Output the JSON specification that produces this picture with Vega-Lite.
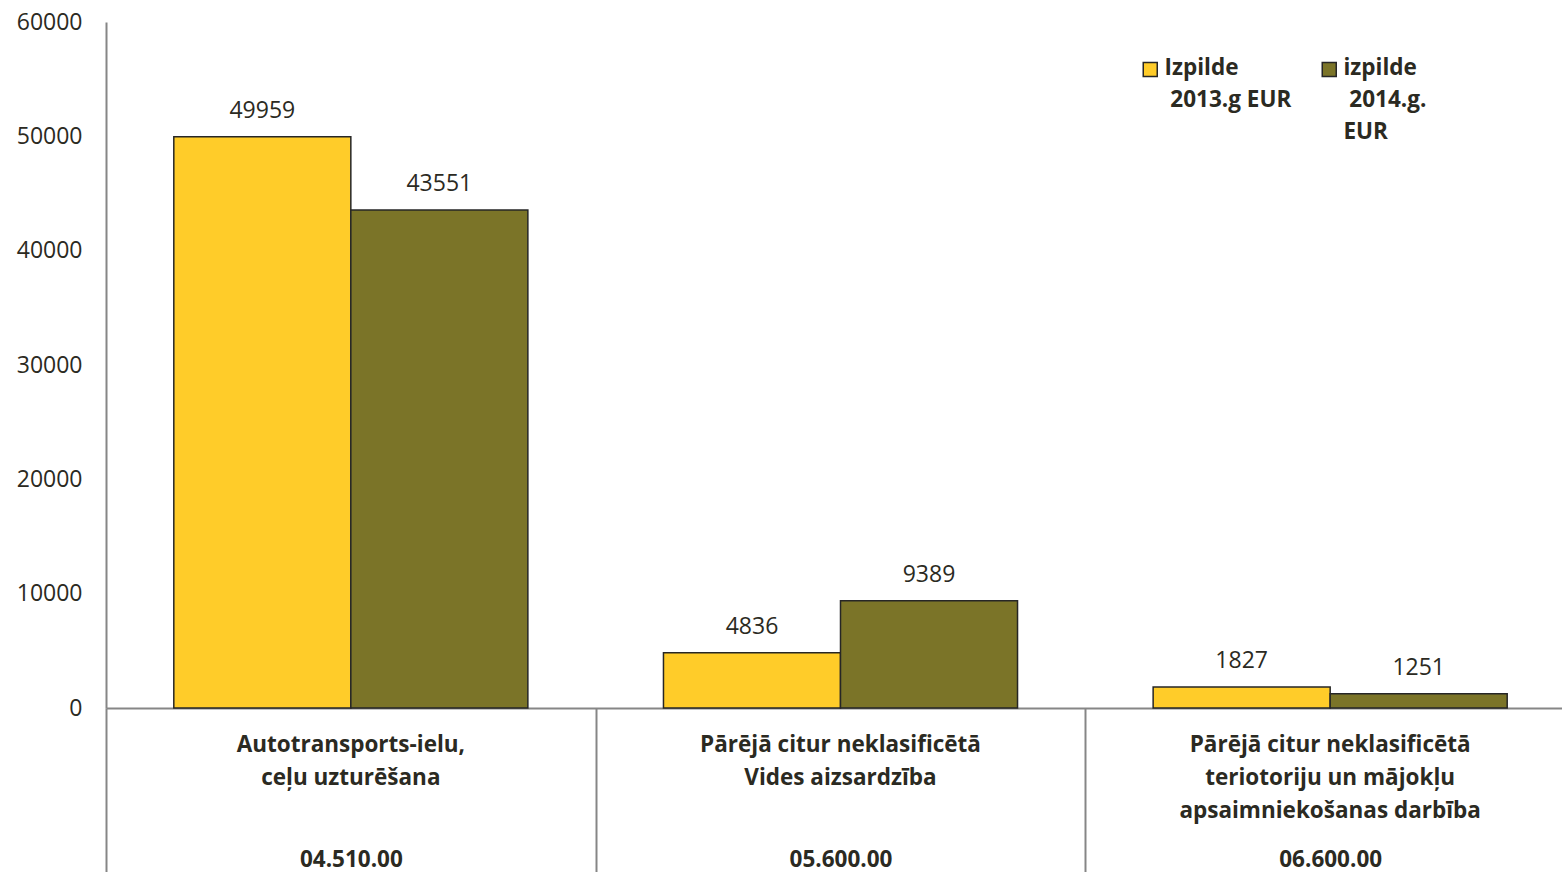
{
  "$schema": "https://vega.github.io/schema/vega-lite/v6.json",
  "width": 1456,
  "height": 686,
  "autosize": {"type": "none"},
  "padding": {"left": 106, "top": 22, "right": 0, "bottom": 164},
  "background": "white",
  "config": {"view": {"stroke": null}, "font": "Open Sans"},
  "data": {
    "values": [
      {"cat": "Autotransports-ielu,|ceļu uzturēšana#04.510.00", "series": "Izpilde|\u200b\u00a02013.g EUR|\u00a0", "value": 49959},
      {"cat": "Autotransports-ielu,|ceļu uzturēšana#04.510.00", "series": "izpilde|\u200b\u00a02014.g.|EUR", "value": 43551},
      {"cat": "Pārējā citur neklasificētā|Vides aizsardzība#05.600.00", "series": "Izpilde|\u200b\u00a02013.g EUR|\u00a0", "value": 4836},
      {"cat": "Pārējā citur neklasificētā|Vides aizsardzība#05.600.00", "series": "izpilde|\u200b\u00a02014.g.|EUR", "value": 9389},
      {"cat": "Pārējā citur neklasificētā|teriotoriju un mājokļu|apsaimniekošanas darbība#06.600.00", "series": "Izpilde|\u200b\u00a02013.g EUR|\u00a0", "value": 1827},
      {"cat": "Pārējā citur neklasificētā|teriotoriju un mājokļu|apsaimniekošanas darbība#06.600.00", "series": "izpilde|\u200b\u00a02014.g.|EUR", "value": 1251}
    ]
  },
  "layer": [
    {
      "mark": {"type": "bar", "stroke": "#262626", "strokeWidth": 1.5},
      "encoding": {
        "x": {
          "field": "cat", "type": "nominal", "sort": null,
          "scale": {"range": [0, 1469], "paddingInner": 0, "paddingOuter": 0},
          "axis": {
            "orient": "bottom", "title": null, "ticks": false, "domain": true,
            "domainColor": "#868686", "domainWidth": 2, "labelAngle": 0,
            "labelFont": "Open Sans", "labelFontSize": 22.5, "labelFontWeight": "bold",
            "labelColor": "#2b2a22", "labelBaseline": "top", "labelLineHeight": 33,
            "labelPadding": 25, "labelLimit": 480, "labelOverlap": false,
            "labelExpr": "split(split(datum.label, '#')[0], '|')"
          }
        },
        "xOffset": {"field": "series", "type": "nominal", "sort": null, "scale": {"paddingInner": 0, "paddingOuter": 0.383}},
        "y": {
          "field": "value", "type": "quantitative",
          "scale": {"domain": [0, 60000], "nice": false},
          "axis": {
            "title": null, "values": [0, 10000, 20000, 30000, 40000, 50000, 60000], "format": "d",
            "ticks": false, "grid": false, "domainColor": "#868686", "domainWidth": 2,
            "labelFont": "Open Sans", "labelFontSize": 23, "labelColor": "#2b2a22", "labelPadding": 24
          }
        },
        "color": {
          "field": "series", "type": "nominal", "sort": null,
          "scale": {"range": ["#FFCC29", "#7B7428"]},
          "legend": {
            "title": null, "orient": "none", "legendX": 1033, "legendY": 36,
            "direction": "horizontal", "columns": 2, "symbolType": "square", "symbolSize": 196,
            "symbolStrokeColor": "#262626", "symbolStrokeWidth": 1.5,
            "labelFont": "Open Sans", "labelFontSize": 22.5, "labelFontWeight": "bold", "labelColor": "#2b2a22",
            "labelExpr": "split(datum.label, '|')", "labelOffset": 3, "labelBaseline": "top",
            "columnPadding": 26, "labelLimit": 300,
            "encode": {"labels": {"update": {"lineHeight": {"value": 32}, "dy": {"value": -12}}}}
          }
        }
      }
    },
    {
      "mark": {"type": "text", "baseline": "alphabetic", "dy": -19, "fontSize": 23, "color": "#2b2a22", "font": "Open Sans"},
      "encoding": {
        "x": {
          "field": "cat", "type": "nominal", "sort": null,
          "scale": {"range": [0, 1469], "paddingInner": 0, "paddingOuter": 0},
          "axis": {
            "orient": "bottom", "title": null, "domain": false, "ticks": true, "tickBand": "extent",
            "tickSize": 164, "tickColor": "#868686", "tickWidth": 2, "labelAngle": 0,
            "labelFont": "Open Sans", "labelFontSize": 22.5, "labelFontWeight": "bold",
            "labelColor": "#2b2a22", "labelBaseline": "alphabetic", "labelPadding": -6,
            "labelLimit": 480, "labelOverlap": false,
            "labelExpr": "split(datum.label, '#')[1]"
          }
        },
        "xOffset": {"field": "series", "type": "nominal", "sort": null, "scale": {"paddingInner": 0, "paddingOuter": 0.383}},
        "y": {"field": "value", "type": "quantitative"},
        "text": {"field": "value", "type": "quantitative", "format": "d"}
      }
    }
  ],
  "resolve": {"axis": {"x": "independent"}}
}
